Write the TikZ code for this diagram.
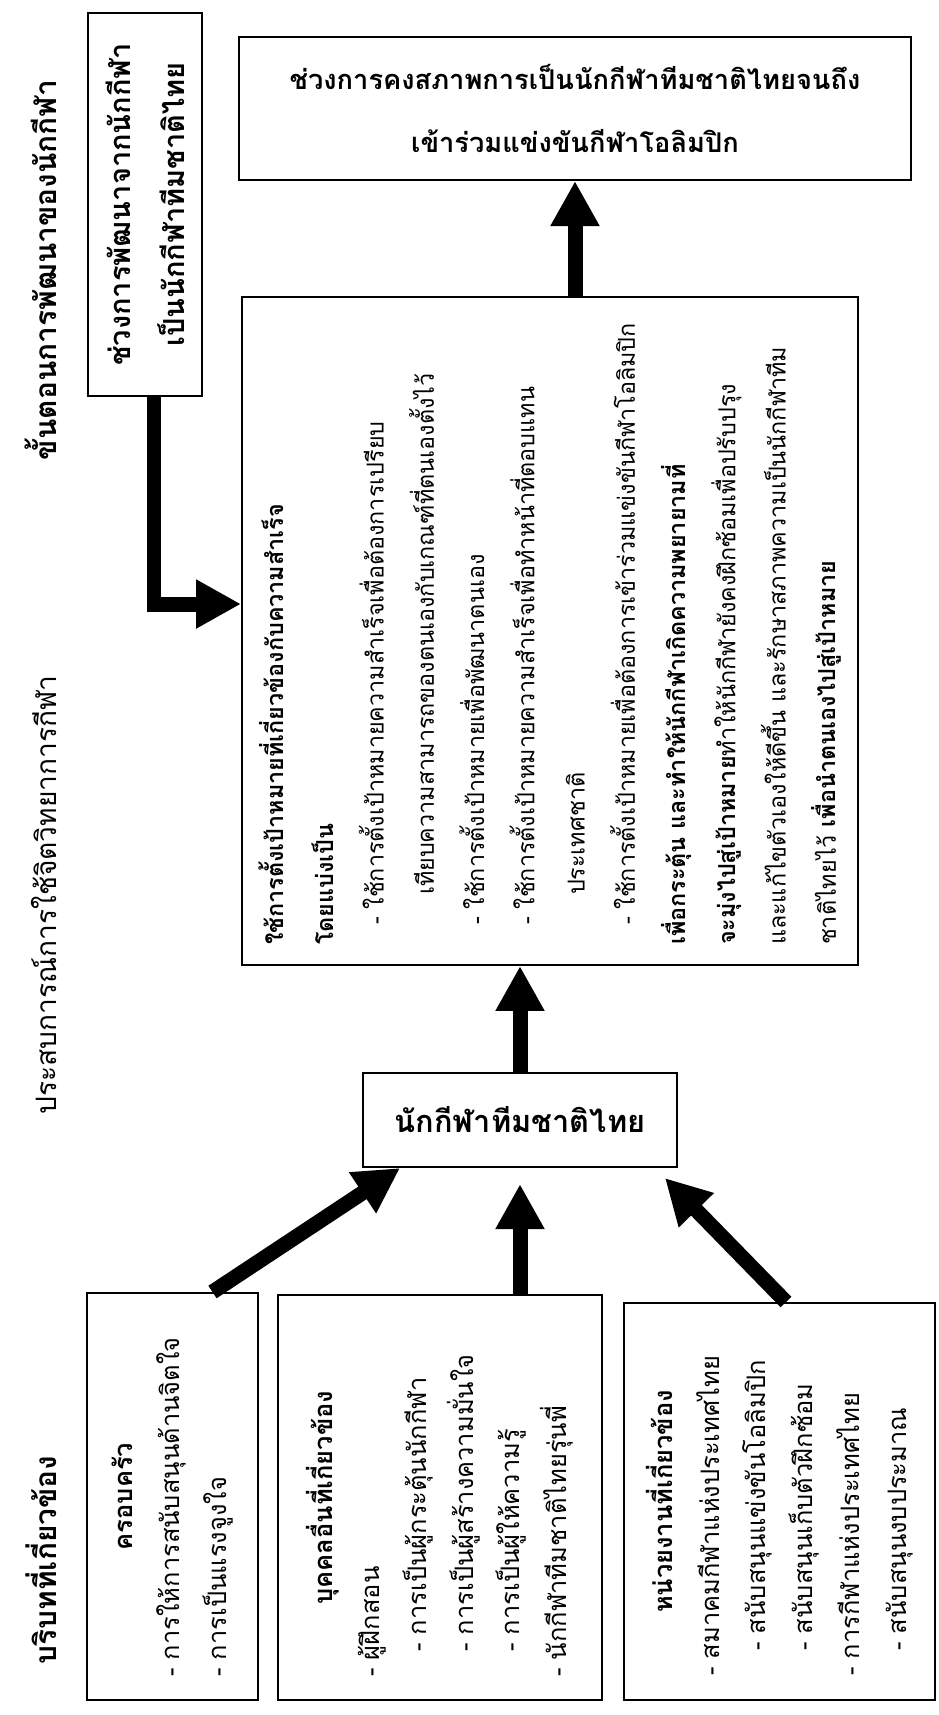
\documentclass[tikz,border=0pt]{standalone}
\usepackage{fontspec}
\setmainfont[Script=Thai]{Loma}
\usetikzlibrary{arrows.meta}

\begin{document}
\begin{tikzpicture}[x=0.02cm,y=-0.02cm,
    box/.style={draw,line width=1.2pt,inner sep=0pt},
    sidebox/.style={box,rotate=90,align=left},
    heading/.style={rotate=90,anchor=base,font=\fontsize{17}{20}\selectfont\bfseries},
    itemtext/.style={font=\fontsize{14.5}{26.6}\selectfont},
    fatarrow/.style={line width=0.3cm,-{Triangle[width=0.92cm,length=0.9cm]}}]
\useasboundingbox (0,0) rectangle (938,1715);

\node[heading] (hdev) at (56,270) {ขั้นตอนการพัฒนาของนักกีฬา};
\node[heading,font=\fontsize{16}{20}\selectfont] (hexp) at (56,895) {ประสบการณ์การใช้จิตวิทยาการกีฬา};
\node[heading] (hctx) at (56,1560) {บริบทที่เกี่ยวข้อง};

\node[box,rotate=90,align=center,minimum width=7.66cm,minimum height=2.28cm,
    font=\fontsize{16.5}{30.6}\selectfont\bfseries] (devbox) at (145,204.5)
    {ช่วงการพัฒนาจากนักกีฬา\\เป็นนักกีฬาทีมชาติไทย};
\node[box,align=center,minimum width=13.44cm,minimum height=2.86cm,
    font=\fontsize{15.5}{35.7}\selectfont\bfseries] (keepbox) at (575,108.5)
    {ช่วงการคงสภาพการเป็นนักกีฬาทีมชาติไทยจนถึง\\เข้าร่วมแข่งขันกีฬาโอลิมปิก};

\node[sidebox,minimum width=13.36cm,minimum height=12.32cm,text width=12.56cm,
    font=\fontsize{13.3}{28.6}\selectfont] (goalbox) at (550,631)
    {{\bfseries ใช้การตั้งเป้าหมายที่เกี่ยวข้องกับความสำเร็จ}\\
     {\bfseries โดยแบ่งเป็น}\\
     \hspace*{0.4cm}- ใช้การตั้งเป้าหมายความสำเร็จเพื่อต้องการเปรียบ\\
     \hspace*{1cm}เทียบความสามารถของตนเองกับเกณฑ์ที่ตนเองตั้งไว้\\
     \hspace*{0.4cm}- ใช้การตั้งเป้าหมายเพื่อพัฒนาตนเอง\\
     \hspace*{0.4cm}- ใช้การตั้งเป้าหมายความสำเร็จเพื่อทำหน้าที่ตอบแทน\\
     \hspace*{1cm}ประเทศชาติ\\
     \hspace*{0.4cm}- ใช้การตั้งเป้าหมายเพื่อต้องการเข้าร่วมแข่งขันกีฬาโอลิมปิก\\
     {\bfseries เพื่อกระตุ้น และทำให้นักกีฬาเกิดความพยายามที่}\\
     {\bfseries จะมุ่งไปสู่เป้าหมาย}ทำให้นักกีฬายังคงฝึกซ้อมเพื่อปรับปรุง\\
     และแก้ไขตัวเองให้ดีขึ้น และรักษาสภาพความเป็นนักกีฬาทีม\\
     ชาติไทยไว้ {\bfseries เพื่อนำตนเองไปสู่เป้าหมาย}};

\node[box,minimum width=6.28cm,minimum height=1.88cm,
    font=\fontsize{17.5}{20}\selectfont\bfseries] (athlete) at (520,1120) {นักกีฬาทีมชาติไทย};

\node[sidebox,itemtext,minimum width=8.14cm,minimum height=3.42cm,text width=7.22cm] (family) at (172.5,1496.5)
    {\hfill{\bfseries ครอบครัว}\hfill\null\\
     \mbox{- การให้การสนับสนุนด้านจิตใจ}\\
     - การเป็นแรงจูงใจ};
\node[sidebox,itemtext,minimum width=8.1cm,minimum height=6.48cm,text width=7.18cm] (others) at (440,1497.5)
    {\hfill{\bfseries บุคคลอื่นที่เกี่ยวข้อง}\hfill\null\\
     - ผู้ฝึกสอน\\
     \hspace*{0.5cm}- การเป็นผู้กระตุ้นนักกีฬา\\
     \hspace*{0.5cm}- การเป็นผู้สร้างความมั่นใจ\\
     \hspace*{0.5cm}- การเป็นผู้ให้ความรู้\\
     - นักกีฬาทีมชาติไทยรุ่นพี่};
\node[sidebox,itemtext,minimum width=7.94cm,minimum height=6.22cm,text width=6.98cm] (agency) at (779.5,1501.5)
    {\hfill{\bfseries หน่วยงานที่เกี่ยวข้อง}\hfill\null\\
     - สมาคมกีฬาแห่งประเทศไทย\\
     \hspace*{0.5cm}- สนับสนุนแข่งขันโอลิมปิก\\
     \hspace*{0.5cm}- สนับสนุนเก็บตัวฝึกซ้อม\\
     - การกีฬาแห่งประเทศไทย\\
     \hspace*{0.5cm}- สนับสนุนงบประมาณ};

\draw[fatarrow] ([xshift=0.18cm]devbox.west) |- ([yshift=0.54cm]goalbox.north);
\draw[fatarrow] (goalbox.east -| keepbox.south) -- (keepbox.south);
\draw[fatarrow] (athlete.north) -- (athlete.north |- goalbox.west);
\draw[fatarrow] ([xshift=0.8cm]family.east) -- ([xshift=-2.4cm]athlete.south);
\draw[fatarrow] (others.east -| athlete.south) -- ([yshift=-0.32cm]athlete.south);
\draw[fatarrow] ([xshift=0.13cm]agency.east) -- ([xshift=2.9cm,yshift=-0.2cm]athlete.south);
\end{tikzpicture}
\end{document}
